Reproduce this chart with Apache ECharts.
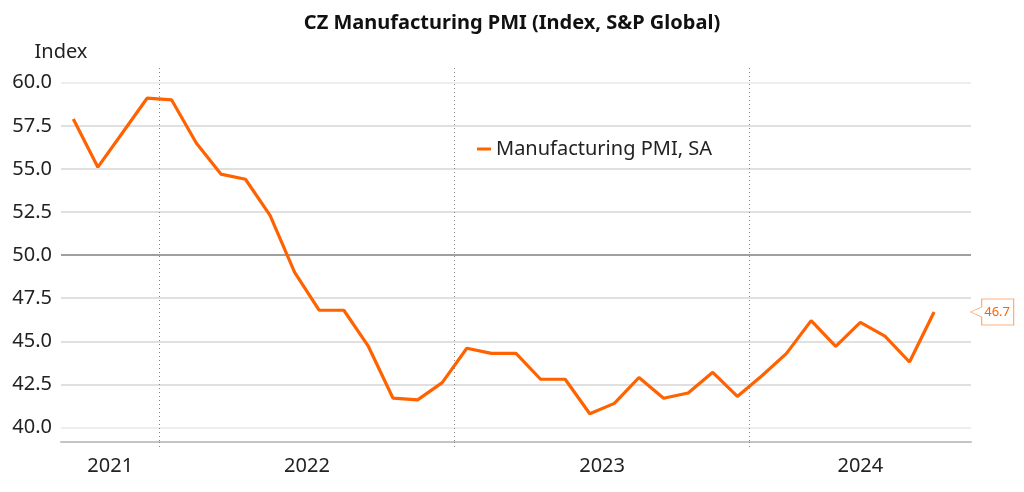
<!DOCTYPE html>
<html>
<head>
<meta charset="utf-8">
<script src="https://cdn.jsdelivr.net/npm/echarts@6/dist/echarts.min.js"></script>
<style>
  html, body { margin: 0; padding: 0; background: #fff; }
  #chart { width: 1024px; height: 492px; }
</style>
</head>
<body>
<div id="chart"></div>
<script>
// monthly categories, Sep 2021 .. Sep 2024 (last month has no reading yet)
const months = [
    '2021-09', '2021-10', '2021-11', '2021-12',
    '2022-01', '2022-02', '2022-03', '2022-04', '2022-05', '2022-06',
    '2022-07', '2022-08', '2022-09', '2022-10', '2022-11', '2022-12',
    '2023-01', '2023-02', '2023-03', '2023-04', '2023-05', '2023-06',
    '2023-07', '2023-08', '2023-09', '2023-10', '2023-11', '2023-12',
    '2024-01', '2024-02', '2024-03', '2024-04', '2024-05', '2024-06',
    '2024-07', '2024-08', '2024-09'
];

// Manufacturing PMI, SA
const pmi = [
    57.9, 55.1, 57.1, 59.1,
    59.0, 56.5, 54.7, 54.4, 52.3, 49.0, 46.8, 46.8, 44.7, 41.7, 41.6, 42.6,
    44.6, 44.3, 44.3, 42.8, 42.8, 40.8, 41.4, 42.9, 41.7, 42.0, 43.2, 41.8,
    43.0, 44.3, 46.2, 44.7, 46.1, 45.3, 43.8, 46.7
];

const yTicks = [40, 42.5, 45, 47.5, 50, 52.5, 55, 57.5, 60];

const FONT = 'Noto Sans';
const ORANGE = '#ff6200';

// month edges: start of every month plus the end of the last one
const monthEdges = months.concat(['end']);

// year labels sit in the middle of each year's visible span
const years = [];
const yearSpan = [];
months.forEach(function (m, i) {
    const y = m.slice(0, 4);
    if (years.indexOf(y) < 0) {
        years.push(y);
        yearSpan.push([i, i + 1]);
    } else {
        yearSpan[yearSpan.length - 1][1] = i + 1;
    }
});
const yearPos = yearSpan.map(function (r) { return (r[0] + r[1]) / 2; });

function isYearStart(index) {
    return index > 0 && monthEdges[index].slice(5) === '01';
}

const lastIdx = pmi.length - 1;

const chart = echarts.init(document.getElementById('chart'));

const option = {
    animation: false,
    textStyle: { fontFamily: FONT },
    title: {
        text: 'CZ Manufacturing PMI (Index, S&P Global)',
        left: 'center',
        top: 8,
        textStyle: { fontFamily: FONT, fontSize: 20, fontWeight: 'bold', color: '#111' }
    },
    legend: {
        left: 477,
        top: 139,
        padding: 0,
        icon: 'rect',
        itemWidth: 14,
        itemHeight: 3,
        itemGap: 5,
        textStyle: { fontFamily: FONT, fontSize: 20, color: '#222' },
        data: ['Manufacturing PMI, SA']
    },
    grid: [
        // outer frame: year dividers, axis line, year labels
        { left: 61, right: 53, top: 68, bottom: 50 },
        // plot area: 40..60
        { left: 61, right: 53, top: 82.7, bottom: 64.5 }
    ],
    xAxis: [
        {
            type: 'category',
            gridIndex: 0,
            data: monthEdges,
            boundaryGap: false,
            axisLine: { show: true, lineStyle: { color: '#c4c4c4', width: 2 } },
            axisTick: {
                show: true,
                length: 6,
                interval: function (i) { return isYearStart(i); },
                lineStyle: { color: '#888', type: [1, 3] }
            },
            axisLabel: { show: false },
            splitLine: {
                show: true,
                interval: function (i) { return isYearStart(i); },
                lineStyle: { color: '#888', width: 1, type: [1, 3] }
            }
        },
        {
            type: 'value',
            gridIndex: 0,
            position: 'bottom',
            min: 0,
            max: months.length,
            axisLine: { show: false },
            axisTick: { show: false },
            splitLine: { show: false },
            axisLabel: {
                show: true,
                customValues: yearPos,
                margin: 14,
                fontFamily: FONT,
                fontSize: 20,
                color: '#222',
                formatter: function (v) {
                    const k = yearPos.indexOf(v);
                    return k >= 0 ? years[k] : '';
                }
            }
        },
        {
            type: 'category',
            gridIndex: 1,
            data: months,
            boundaryGap: true,
            show: false
        }
    ],
    yAxis: [
        {
            type: 'value',
            gridIndex: 0,
            min: 0,
            max: 1,
            show: false
        },
        {
            type: 'value',
            gridIndex: 1,
            min: yTicks[0],
            max: yTicks[yTicks.length - 1],
            interval: 2.5,
            name: 'Index',
            nameLocation: 'end',
            nameGap: 20,
            nameTextStyle: { fontFamily: FONT, fontSize: 20, color: '#222', align: 'center' },
            axisLine: { show: false },
            axisTick: { show: false },
            axisLabel: {
                fontFamily: FONT,
                fontSize: 20,
                color: '#222',
                margin: 9,
                formatter: function (v) { return v.toFixed(1); }
            },
            splitLine: {
                show: true,
                lineStyle: {
                    width: 1.5,
                    color: ['#e8e8e8', '#d6d6d6', '#d6d6d6', '#d6d6d6', '#7f7f7f',
                            '#d6d6d6', '#d6d6d6', '#d6d6d6', '#e8e8e8']
                }
            }
        }
    ],
    series: [
        {
            name: 'Manufacturing PMI, SA',
            type: 'line',
            xAxisIndex: 2,
            yAxisIndex: 1,
            data: pmi,
            symbol: 'none',
            clip: false,
            color: ORANGE,
            lineStyle: { color: ORANGE, width: 3.2 },
            markPoint: {
                silent: true,
                symbol: 'path://M0,13L11,8L11,0L43,0L43,26L11,26L11,18Z',
                symbolSize: [43, 26],
                symbolKeepAspect: false,
                symbolOffset: [58, 0],
                itemStyle: { color: '#fff', borderColor: '#fbb07e', borderWidth: 1 },
                label: {
                    show: true,
                    position: 'inside',
                    offset: [5, 0],
                    color: ORANGE,
                    fontFamily: FONT,
                    fontSize: 13,
                    formatter: function (p) { return p.value.toFixed(1); }
                },
                data: [{ coord: [months[lastIdx], pmi[lastIdx]], value: pmi[lastIdx] }]
            }
        }
    ]
};

chart.setOption(option);
</script>
</body>
</html>
